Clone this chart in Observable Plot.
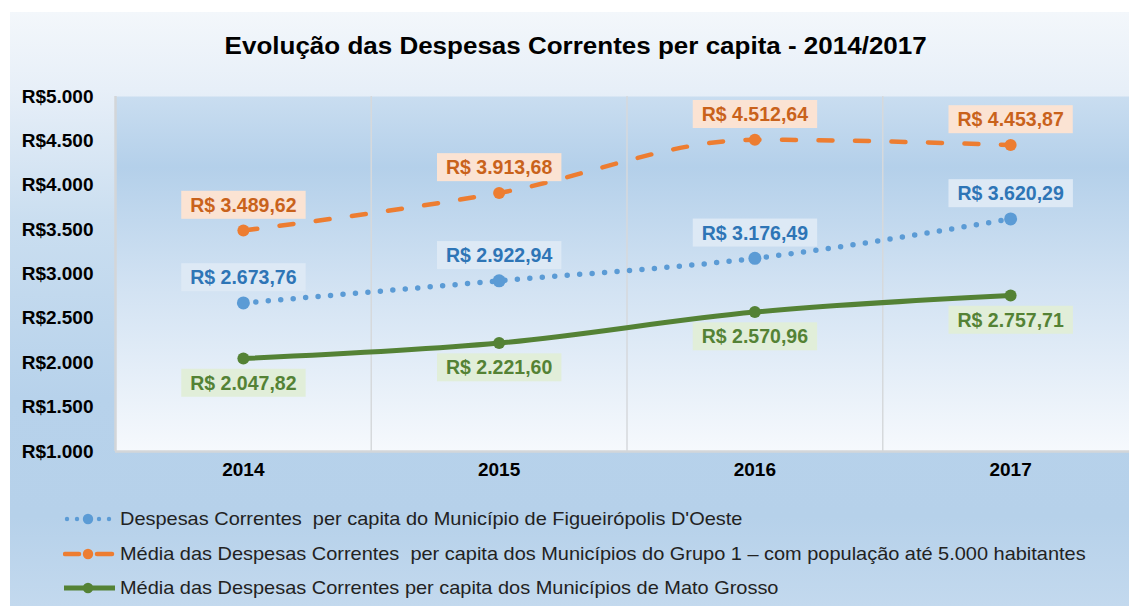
<!DOCTYPE html>
<html><head><meta charset="utf-8">
<script src="https://cdn.jsdelivr.net/npm/d3@7"></script>
<script src="https://cdn.jsdelivr.net/npm/@observablehq/plot@0.6"></script>
<style>
html,body{margin:0;padding:0;background:#fff;overflow:hidden;width:1129px;height:606px;}
#chart{position:absolute;left:10px;top:12px;width:1119px;height:594px;overflow:hidden;
 background:linear-gradient(to bottom,#f3f7fb 0%,#e7eff8 13%,#cadef0 35%,#b7d2eb 65%,#b6d1ea 85%,#c3d9ee 100%);
 font-family:"Liberation Sans",Arial,sans-serif;}
#title{height:58px;box-sizing:border-box;padding-top:22px;text-align:center;font-weight:bold;font-size:23px;line-height:24px;color:#000;}
#title span{display:inline-block;transform:translateX(6px) scaleX(1.13);transform-origin:center;}
#plotwrap{height:420px;}
#plotwrap svg{display:block;overflow:visible;}
#legend{padding-top:12px;}
.row{height:34.5px;display:flex;align-items:center;padding-left:53px;font-size:18.5px;color:#222;white-space:pre;}
.row svg{width:54px;height:14px;margin-right:3px;flex:none;}
.row span{display:inline-block;transform:scaleX(1.078);transform-origin:left center;}
</style></head>
<body>
<div id="chart">
  <div id="title"><span></span></div>
  <div id="plotwrap"></div>
  <div id="legend"></div>
</div>
<script>
const title = "Evolução das Despesas Correntes per capita - 2014/2017";
const years = [2014, 2015, 2016, 2017];
const figueiropolis = [2673.76, 2922.94, 3176.49, 3620.29];
const grupo1 = [3489.62, 3913.68, 4512.64, 4453.87];
const matoGrosso = [2047.82, 2221.60, 2570.96, 2757.71];
const yTicks = [1000, 1500, 2000, 2500, 3000, 3500, 4000, 4500, 5000];
const seriesNames = [
  "Despesas Correntes  per capita do Município de Figueirópolis D'Oeste",
  "Média das Despesas Correntes  per capita dos Municípios do Grupo 1 – com população até 5.000 habitantes",
  "Média das Despesas Correntes per capita dos Municípios de Mato Grosso"
];
const lineColors = ["#5B9BD5", "#ED7D31", "#548235"];
const labelColors = ["#2E75B6", "#C9621B", "#548235"];
const boxColors = ["#dde9f5", "#fbe3d3", "#e1eed9"];

function brNum(v, decimals) {
  const parts = v.toFixed(decimals).split(".");
  const intStr = parts[0].replace(/\B(?=(\d{3})+(?!\d))/g, ".");
  return parts.length > 1 ? intStr + "," + parts[1] : intStr;
}
const rows = (vals) => years.map((year, i) => ({year, value: vals[i]}));
const figData = rows(figueiropolis);
const g1Data = rows(grupo1);
const mtData = rows(matoGrosso);
const gridYears = years.slice(1).map(y => y - 0.5);

document.querySelector("#title span").textContent = title;

const font = '"Liberation Sans", Arial, sans-serif';
const labelText = d => "R$ " + brNum(d.value, 2);

const svg = Plot.plot({
  width: 1119, height: 420,
  marginTop: 26, marginBottom: 39, marginLeft: 105, marginRight: -9,
  style: {background: "transparent", fontFamily: font, fontSize: "19px", fontWeight: "bold", color: "#000", overflow: "visible"},
  x: {type: "linear", domain: [years[0] - 0.5, years[years.length - 1] + 0.5], ticks: years, tickFormat: d => String(d), label: null, tickSize: 0, tickPadding: 11},
  y: {domain: [yTicks[0], yTicks[yTicks.length - 1]], ticks: yTicks, tickFormat: d => "R$" + brNum(d, 0), label: null, tickSize: 0, tickPadding: 22},
  marks: [
    Plot.frame({fill: "url(#plotGrad)", stroke: "none"}),
    Plot.ruleX(gridYears, {stroke: "#d6d9dc", strokeWidth: 1.5}),
    Plot.ruleX([years[0] - 0.5], {stroke: "#d3d6d9", strokeWidth: 2.5}),
    Plot.ruleY([yTicks[0]], {stroke: "#d3d6d9", strokeWidth: 2.5}),
    Plot.line(mtData, {x: "year", y: "value", stroke: lineColors[2], strokeWidth: 5, curve: "monotone-x", strokeLinecap: "round"}),
    Plot.line(g1Data, {x: "year", y: "value", stroke: lineColors[1], strokeWidth: 4.5, strokeDasharray: "14 22.5", strokeLinecap: "round", curve: "monotone-x"}),
    Plot.line(figData, {x: "year", y: "value", stroke: lineColors[0], strokeWidth: 5.5, strokeDasharray: "0 12.5", strokeLinecap: "round", curve: "monotone-x"}),
    Plot.dot(mtData, {x: "year", y: "value", r: 6, fill: lineColors[2]}),
    Plot.dot(g1Data, {x: "year", y: "value", r: 6, fill: lineColors[1]}),
    Plot.dot(figData, {x: "year", y: "value", r: 6.5, fill: lineColors[0]}),
    Plot.text(figData, {x: "year", y: "value", text: labelText, dy: -25, fill: labelColors[0], fontSize: 19.5, fontWeight: "bold", ariaLabel: "label-0"}),
    Plot.text(g1Data, {x: "year", y: "value", text: labelText, dy: -25, fill: labelColors[1], fontSize: 19.5, fontWeight: "bold", ariaLabel: "label-1"}),
    Plot.text(mtData, {x: "year", y: "value", text: labelText, dy: 25, fill: labelColors[2], fontSize: 19.5, fontWeight: "bold", ariaLabel: "label-2"})
  ]
});

// gradient for plot area
const ns = "http://www.w3.org/2000/svg";
const defs = document.createElementNS(ns, "defs");
defs.innerHTML = '<linearGradient id="plotGrad" x1="0" y1="0" x2="0" y2="1">' +
  '<stop offset="0" stop-color="#c9ddf0"/><stop offset="0.2" stop-color="#b4d0ea"/>' +
  '<stop offset="0.55" stop-color="#d3e3f3"/><stop offset="1" stop-color="#f6f9fd"/></linearGradient>';
svg.insertBefore(defs, svg.firstChild);
document.getElementById("plotwrap").appendChild(svg);

// label boxes behind each value label
[0, 1, 2].forEach(i => {
  let texts = [];
  svg.querySelectorAll('[aria-label="label-' + i + '"]').forEach(el => {
    if (el.tagName.toLowerCase() === "text") texts.push(el);
    else el.querySelectorAll("text").forEach(t => texts.push(t));
  });
  if (!texts.length) {
    const gs = svg.querySelectorAll('g[aria-label="text"]');
    if (gs[i]) gs[i].querySelectorAll("text").forEach(t => texts.push(t));
  }
  texts.forEach(t => {
    const b = t.getBBox();
    const r = document.createElementNS(ns, "rect");
    r.setAttribute("x", b.x - 9);
    r.setAttribute("y", b.y + b.height / 2 - 14);
    r.setAttribute("width", b.width + 18);
    r.setAttribute("height", 28);
    r.setAttribute("fill", boxColors[i]);
    const tr = t.getAttribute("transform");
    if (tr) r.setAttribute("transform", tr);
    t.parentNode.insertBefore(r, t);
  });
});

// legend
const symbols = [
  '<circle cx="4" cy="7" r="2.2" fill="#5B9BD5"/><circle cx="14" cy="7" r="2.2" fill="#5B9BD5"/><circle cx="25" cy="7" r="5.2" fill="#5B9BD5"/><circle cx="36" cy="7" r="2.2" fill="#5B9BD5"/><circle cx="46" cy="7" r="2.2" fill="#5B9BD5"/>',
  '<line x1="2" y1="7" x2="16" y2="7" stroke="#ED7D31" stroke-width="4.5" stroke-linecap="round"/><line x1="34" y1="7" x2="49" y2="7" stroke="#ED7D31" stroke-width="4.5" stroke-linecap="round"/><circle cx="25" cy="7" r="5.2" fill="#ED7D31"/>',
  '<line x1="1" y1="7" x2="52" y2="7" stroke="#548235" stroke-width="5"/><circle cx="25" cy="7" r="5.2" fill="#548235"/>'
];
const legend = document.getElementById("legend");
seriesNames.forEach((name, i) => {
  const row = document.createElement("div");
  row.className = "row";
  row.innerHTML = '<svg viewBox="0 0 54 14">' + symbols[i] + '</svg>';
  const span = document.createElement("span");
  span.textContent = name;
  row.appendChild(span);
  legend.appendChild(row);
});
</script>
</body></html>
